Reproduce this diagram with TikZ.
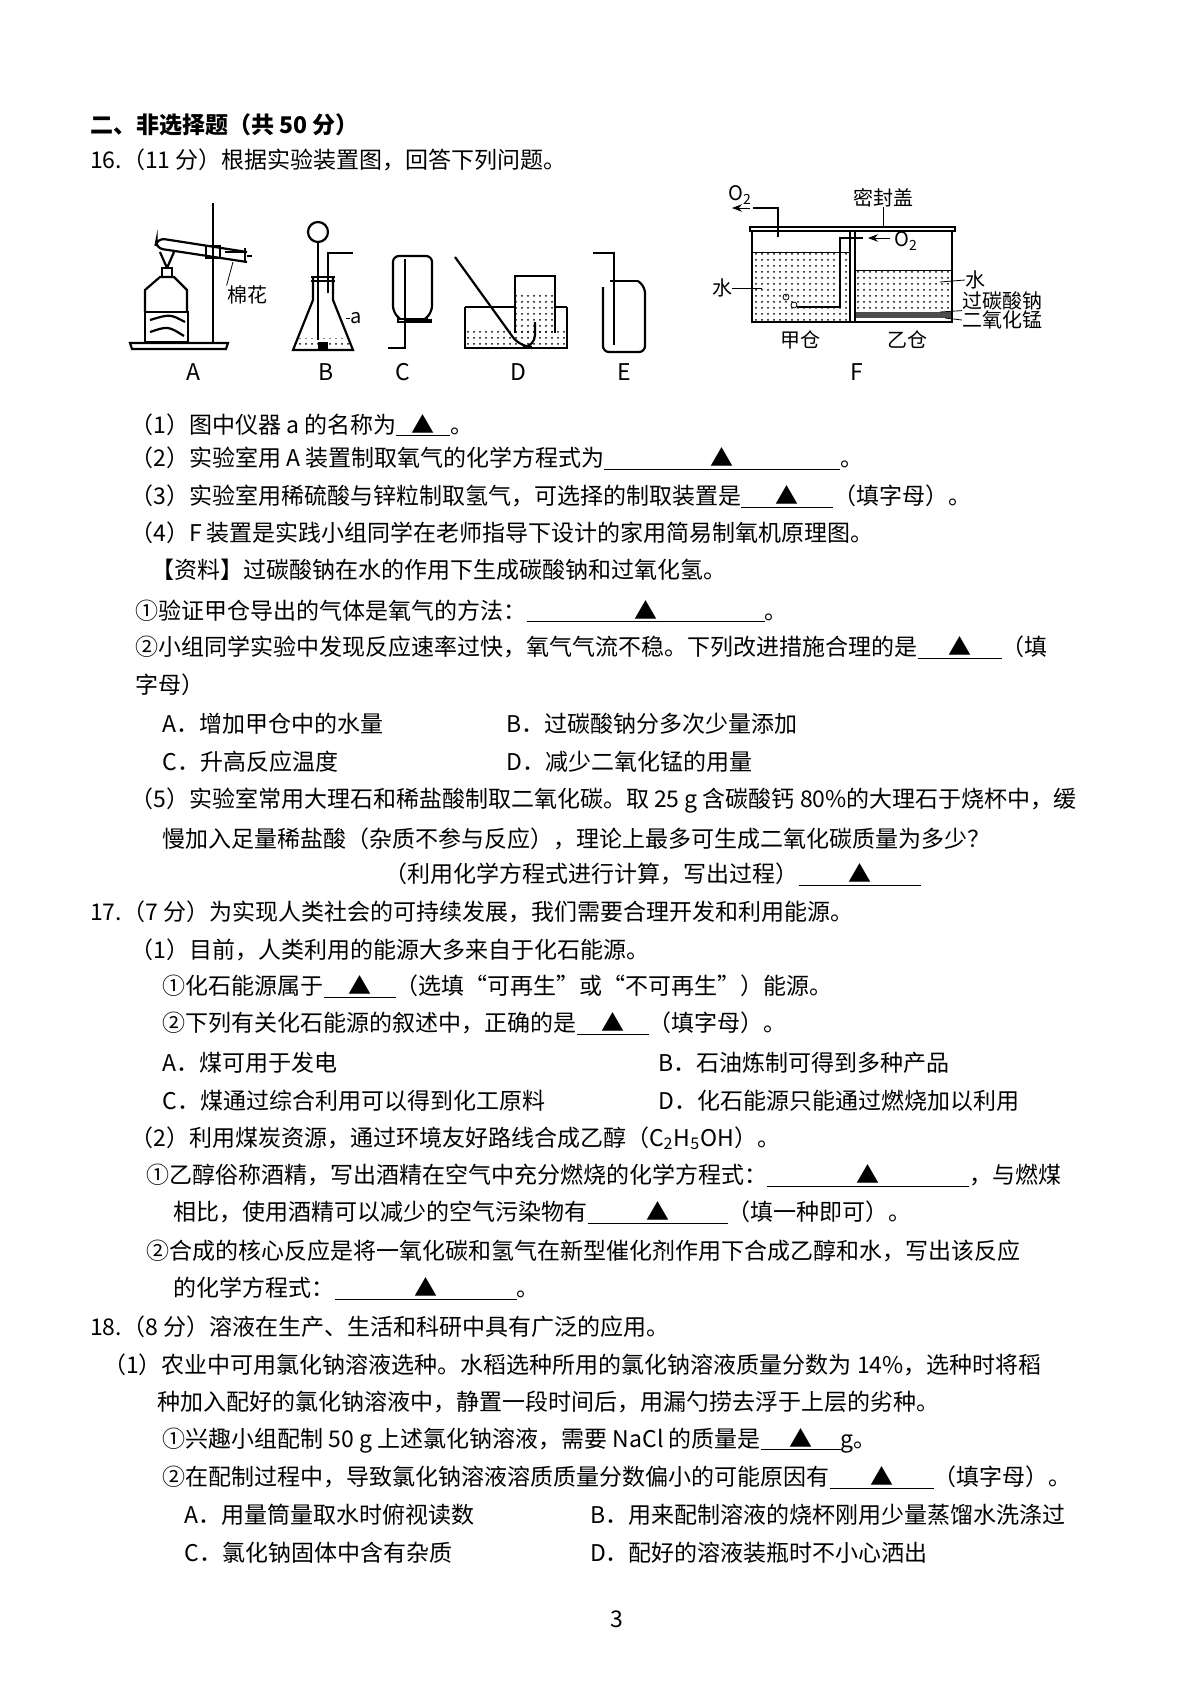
\documentclass[tikz,border=0pt]{standalone}
\usepackage{fontspec}
\setmainfont{Noto Sans CJK SC}
\usetikzlibrary{patterns,arrows.meta}
\newcommand\ans[1]{\underline{\makebox[#1pt]{▲}}}
\tikzset{
  txt/.style={anchor=west,inner sep=0pt,font=\fontsize{11.5}{13}\selectfont},
  lbl/.style={inner sep=0pt,font=\fontsize{10}{12}\selectfont},
  part/.style={inner sep=0pt,font=\fontsize{11.5}{13}\selectfont},
  glass/.style={line width=1.1pt},
  water/.style={pattern=dots},
}
\begin{document}
\begin{tikzpicture}[x=0.5pt,y=-0.5pt]
\useasboundingbox (0,0) rectangle (1190,1682);
\fill[white] (0,0) rectangle (1190,1682);

% ---- text, in view units
\begin{scope}[x=0.541pt,y=-0.541pt]
\node[txt,font=\fontsize{11.5}{13}\selectfont\bfseries] (h2) at (83,115) {二、非选择题（共 50 分）};
\node[txt] (q16) at (83,148) {16.（11 分）根据实验装置图，回答下列问题。};
\node[txt] (q16a) at (120,393) {（1）图中仪器 a 的名称为\ans{27}。};
\node[txt] (q16b) at (120,424) {（2）实验室用 A 装置制取氧气的化学方程式为\ans{118}。};
\node[txt] (q16c) at (120,459) {（3）实验室用稀硫酸与锌粒制取氢气，可选择的制取装置是\ans{46}（填字母）。};
\node[txt] (q16d) at (120,492) {（4）F 装置是实践小组同学在老师指导下设计的家用简易制氧机原理图。};
\node[txt] (zl) at (140,527) {【资料】过碳酸钠在水的作用下生成碳酸钠和过氧化氢。};
\node[txt] (d1) at (125,565) {①验证甲仓导出的气体是氧气的方法：\ans{119}。};
\node[txt] (d2) at (125,599) {②小组同学实验中发现反应速率过快，氧气气流不稳。下列改进措施合理的是\ans{42}（填};
\node[txt] (d2b) at (125,633) {字母）};
\node[txt] (oA) at (150,669) {A．增加甲仓中的水量};
\node[txt] (oB) at (468,669) {B．过碳酸钠分多次少量添加};
\node[txt] (oC) at (150,704) {C．升高反应温度};
\node[txt] (oD) at (468,704) {D．减少二氧化锰的用量};
\node[txt] (q16e) at (120,740) {（5）实验室常用大理石和稀盐酸制取二氧化碳。取 25 g 含碳酸钙 80\%的大理石于烧杯中，缓};
\node[txt] (q16e2) at (150,775) {慢加入足量稀盐酸（杂质不参与反应），理论上最多可生成二氧化碳质量为多少？};
\node[txt] (q16e3) at (355,808) {（利用化学方程式进行计算，写出过程）\ans{61}};
\node[txt] (q17) at (83,843) {17.（7 分）为实现人类社会的可持续发展，我们需要合理开发和利用能源。};
\node[txt] (q17a) at (120,878) {（1）目前，人类利用的能源大多来自于化石能源。};
\node[txt] (e1) at (150,912) {①化石能源属于\ans{36}（选填“可再生”或“不可再生”）能源。};
\node[txt] (e2) at (150,946) {②下列有关化石能源的叙述中，正确的是\ans{36}（填字母）。};
\node[txt] (pA) at (150,982) {A．煤可用于发电};
\node[txt] (pB) at (608,982) {B．石油炼制可得到多种产品};
\node[txt] (pC) at (150,1017) {C．煤通过综合利用可以得到化工原料};
\node[txt] (pD) at (608,1017) {D．化石能源只能通过燃烧加以利用};
\node[txt] (q17b) at (120,1052) {（2）利用煤炭资源，通过环境友好路线合成乙醇（C\textsubscript{2}H\textsubscript{5}OH）。};
\node[txt] (f1) at (135,1087) {①乙醇俗称酒精，写出酒精在空气中充分燃烧的化学方程式：\ans{101}，与燃煤};
\node[txt] (f1b) at (160,1121) {相比，使用酒精可以减少的空气污染物有\ans{70}（填一种即可）。};
\node[txt] (f2) at (135,1156) {②合成的核心反应是将一氧化碳和氢气在新型催化剂作用下合成乙醇和水，写出该反应};
\node[txt] (f2b) at (160,1191) {的化学方程式：\ans{91}。};
\node[txt] (q18) at (83,1226) {18.（8 分）溶液在生产、生活和科研中具有广泛的应用。};
\node[txt] (q18a) at (95,1261) {（1）农业中可用氯化钠溶液选种。水稻选种所用的氯化钠溶液质量分数为 14\%，选种时将稻};
\node[txt] (q18a2) at (145,1296) {种加入配好的氯化钠溶液中，静置一段时间后，用漏勺捞去浮于上层的劣种。};
\node[txt] (g1) at (150,1331) {①兴趣小组配制 50 g 上述氯化钠溶液，需要 NaCl 的质量是\ans{40}g。};
\node[txt] (g2) at (150,1366) {②在配制过程中，导致氯化钠溶液溶质质量分数偏小的可能原因有\ans{52}（填字母）。};
\node[txt] (rA) at (170,1400) {A．用量筒量取水时俯视读数};
\node[txt] (rB) at (545,1400) {B．用来配制溶液的烧杯刚用少量蒸馏水洗涤过};
\node[txt] (rC) at (170,1435) {C．氯化钠固体中含有杂质};
\node[txt] (rD) at (545,1435) {D．配好的溶液装瓶时不小心洒出};
\node[part] (pg) at (570,1497) {3};
\end{scope}

% ---- apparatus, in original pixels
% A
\draw[glass,fill=white] (130,343) -- (228,343) -- (226,349) -- (132,349) -- cycle;
\draw[glass] (213,203) -- (213,343);
\draw[glass] (145,312) rectangle (188,342);
\draw[glass] (150,320) .. controls (170,314) .. (185,322) (150,332) .. controls (168,326) .. (184,336);
\draw[glass] (145,312) -- (145,290) -- (160,277) -- (174,277) -- (187,290) -- (187,312);
\draw[glass] (162,277) rectangle (172,268);
\draw[glass] (167,268) -- (160,252) (167,268) -- (174,252);
\draw[glass,rounded corners=4pt] (247,252) -- (157,238) -- (155,248) -- (247,262);
\draw[glass] (206,246) rectangle (220,258);
\draw[glass] (225,252) -- (245,252) (245,248) -- (245,262);
\draw[glass] (247,256) -- (252,256);
\node[lbl] (mh) at (247,295) {棉花};
\draw (233,262) -- (mh.north west);
\node[part] (lA) at (193,372) {A};
% B
\draw[glass] (313,277) -- (313,300) -- (293,350) -- (353,350) -- (333,300) -- (333,277);
\fill[pattern=dots] (296,338) -- (350,338) -- (353,350) -- (293,350) -- cycle;
\fill[black] (318,342) rectangle (328,350);
\draw[glass] (318,232) circle (10);
\draw[glass] (318,242) -- (318,340);
\draw[glass] (328,293) -- (328,253) -- (353,253);
\draw[glass] (311,277) -- (335,277) (311,281) -- (335,281);
\draw (346,318) -- (350,318);
\node[lbl,anchor=west] (la) at (350,318) {a};
\node[part] (lB) at (326,372) {B};
% C
\draw[glass,rounded corners=3pt] (400,319) -- (393,312) -- (393,256) -- (432,256) -- (432,312) -- (425,319);
\draw[glass] (398,319) rectangle (427,322);
\draw[glass] (427,322) -- (432,322) (405,320) -- (432,320);
\draw[glass] (405,259) -- (405,348) -- (388,348);
\node[part] (lC) at (403,372) {C};
% D
\draw[glass] (465,307) -- (465,348) -- (567,348) -- (567,307);
\fill[pattern=dots] (466,328) rectangle (566,347);
\draw[glass] (515,333) -- (515,276) -- (555,276) -- (555,333);
\fill[pattern=dots] (516,292) rectangle (554,333);
\draw[glass] (465,307) -- (515,307) (555,307) -- (567,307);
\draw[glass,rounded corners=6pt] (455,257) -- (520,347) -- (535,347) -- (535,322);
\node[part] (lD) at (518,372) {D};
% E
\draw[glass,rounded corners=3pt] (603,287) -- (603,352) -- (645,352) -- (645,287) -- (638,281);
\draw[glass] (610,281) -- (638,281);
\draw[glass] (593,253) -- (614,253) -- (614,345);
\node[part] (lE) at (624,372) {E};
% F
\draw[glass] (750,227) rectangle (955,231);
\fill[pattern=dots] (753,252) rectangle (850,322);
\fill[pattern=dots] (855,270) rectangle (952,312);
\fill[black!70] (855,312) rectangle (952,318);
\draw[glass] (752,231) -- (752,322) -- (952,322) -- (952,231);
\draw[glass] (850,231) -- (850,322) (855,231) -- (855,322);
\draw (752,252) -- (850,252) (855,270) -- (952,270);
\draw[glass] (753,208) -- (778,208) -- (778,237);
\draw[-{Stealth[length=5pt]}] (750,208) -- (732,208);
\node[lbl] (o2a) at (740,195) {O\textsubscript{2}};
\draw[glass] (863,238) -- (840,238) -- (840,307) -- (797,307);
\draw (786,297) circle (3) (794,305) circle (3);
\draw[-{Stealth[length=5pt]}] (890,238) -- (868,238);
\node[lbl] (o2b) at (906,241) {O\textsubscript{2}};
\node[lbl] (mfg) at (883,198) {密封盖};
\draw (883,207) -- (883,227);
\node[lbl] (sl) at (722,288) {水};
\draw (sl.east) -- (762,288);
\node[lbl,anchor=west] (sr) at (965,280) {水};
\draw (940,282) -- (sr.west);
\node[lbl,anchor=west] (gt) at (962,301) {过碳酸钠};
\draw (940,312) -- (gt.south west);
\node[lbl,anchor=west] (ey) at (962,320) {二氧化锰};
\draw (945,318) -- (ey.west);
\node[lbl] (jc) at (800,340) {甲仓};
\node[lbl] (yc) at (907,340) {乙仓};
\node[part] (lF) at (857,372) {F};
\end{tikzpicture}
\end{document}
